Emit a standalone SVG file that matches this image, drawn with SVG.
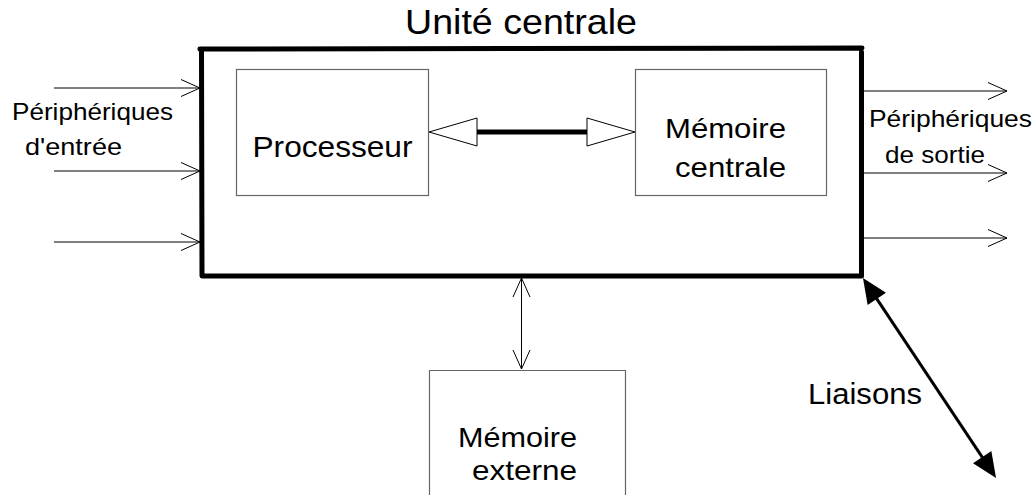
<svg xmlns="http://www.w3.org/2000/svg" width="1036" height="495" viewBox="0 0 1036 495">
<style>
text{font-family:"Liberation Sans",Arial,sans-serif;fill:#000}
.box{fill:none;stroke:#666;stroke-width:1.2}
.frame{fill:none;stroke:#000;stroke-width:5;stroke-linejoin:round;stroke-linecap:round}
.thin{stroke:#000;stroke-width:1;fill:none}
</style>
<defs>
<marker id="chev" markerUnits="userSpaceOnUse" markerWidth="30" markerHeight="30" viewBox="-25 -15 30 30" refX="0" refY="0" orient="auto-start-reverse">
<path d="M-19,-8.5 L0,0 L-19,8.5" fill="none" stroke="#000" stroke-width="1"/>
</marker>
<marker id="open" markerUnits="userSpaceOnUse" markerWidth="60" markerHeight="40" viewBox="-5 -20 60 40" refX="0" refY="0" orient="auto-start-reverse">
<path d="M48,0 L0,-14 L0,14 Z" fill="#fff" stroke="#000" stroke-width="1"/>
</marker>
<marker id="solid" markerUnits="userSpaceOnUse" markerWidth="40" markerHeight="40" viewBox="-20 -20 40 40" refX="0" refY="0" orient="auto-start-reverse">
<path d="M10,0 L-15,-11 L-15,11 Z" fill="#000"/>
</marker>
</defs>

<text x="405" y="34" font-size="35" textLength="232" lengthAdjust="spacingAndGlyphs">Unité centrale</text>

<g id="unite-centrale">
<path class="frame" d="M200,49 L862,48 M861.5,52 L861.5,276 L202,276 L201.5,49"/>
</g>

<g id="processeur">
<rect class="box" x="236.5" y="69.5" width="192" height="126"/>
<text x="252.5" y="157" font-size="30" textLength="160" lengthAdjust="spacingAndGlyphs">Processeur</text>
</g>

<g id="memoire-centrale">
<rect class="box" x="635.5" y="69.5" width="191" height="126"/>
<text x="665" y="138" font-size="28" textLength="121" lengthAdjust="spacingAndGlyphs">Mémoire</text>
<text x="675" y="177" font-size="28" textLength="111" lengthAdjust="spacingAndGlyphs">centrale</text>
</g>

<g id="memoire-externe">
<path class="box" d="M429.5,495 L429.5,370.5 L625.5,370.5 L625.5,495"/>
<text x="458" y="447" font-size="28" textLength="119" lengthAdjust="spacingAndGlyphs">Mémoire</text>
<text x="472" y="480" font-size="28" textLength="105" lengthAdjust="spacingAndGlyphs">externe</text>
</g>

<g id="peripheriques-entree">
<text x="12" y="120" font-size="24" textLength="161" lengthAdjust="spacingAndGlyphs">Périphériques</text>
<text x="25" y="155" font-size="24" textLength="97" lengthAdjust="spacingAndGlyphs">d'entrée</text>
</g>

<g id="peripheriques-sortie">
<text x="869" y="127" font-size="24" textLength="163" lengthAdjust="spacingAndGlyphs">Périphériques</text>
<text x="885" y="163" font-size="24" textLength="100" lengthAdjust="spacingAndGlyphs">de sortie</text>
</g>

<g id="liaisons">
<text x="808" y="404" font-size="30" textLength="114" lengthAdjust="spacingAndGlyphs">Liaisons</text>
</g>

<g id="connectors">
<line class="thin" x1="54" y1="88" x2="200" y2="88" marker-end="url(#chev)"/>
<line class="thin" x1="54" y1="171" x2="200" y2="171" marker-end="url(#chev)"/>
<line class="thin" x1="54" y1="242" x2="200" y2="242" marker-end="url(#chev)"/>
<line class="thin" x1="864" y1="91" x2="1007" y2="91" marker-end="url(#chev)"/>
<line class="thin" x1="864" y1="173" x2="1007" y2="173" marker-end="url(#chev)"/>
<line class="thin" x1="864" y1="238" x2="1007" y2="238" marker-end="url(#chev)"/>
<line class="thin" x1="521.5" y1="278" x2="521.5" y2="369" marker-start="url(#chev)" marker-end="url(#chev)"/>
<line x1="477" y1="132" x2="587" y2="132" stroke="#000" stroke-width="5" marker-start="url(#open)" marker-end="url(#open)"/>
<line x1="868.5" y1="286.3" x2="990.5" y2="469.7" stroke="#000" stroke-width="3" marker-start="url(#solid)" marker-end="url(#solid)"/>
</g>
</svg>
